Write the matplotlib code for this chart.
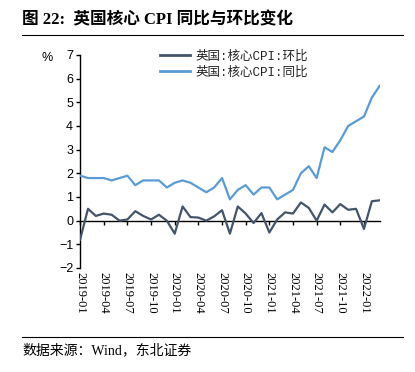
import numpy as np
import matplotlib.pyplot as plt
from matplotlib.lines import Line2D

plt.rcParams['font.family'] = ['Liberation Serif', 'Noto Sans CJK SC', 'DejaVu Sans']

months = ["2019-01", "2019-02", "2019-03", "2019-04", "2019-05", "2019-06",
          "2019-07", "2019-08", "2019-09", "2019-10", "2019-11", "2019-12",
          "2020-01", "2020-02", "2020-03", "2020-04", "2020-05", "2020-06",
          "2020-07", "2020-08", "2020-09", "2020-10", "2020-11", "2020-12",
          "2021-01", "2021-02", "2021-03", "2021-04", "2021-05", "2021-06",
          "2021-07", "2021-08", "2021-09", "2021-10", "2021-11", "2021-12",
          "2022-01", "2022-02", "2022-03"]

# 环比
mom = [-0.8, 0.5, 0.2, 0.3, 0.25, 0.0, 0.05, 0.4, 0.2, 0.05, 0.25, 0.0,
       -0.55, 0.6, 0.15, 0.13, 0.0, 0.18, 0.44, -0.55, 0.6, 0.3, -0.1, 0.32,
       -0.5, 0.05, 0.35, 0.3, 0.77, 0.54, 0.0, 0.68, 0.35, 0.7, 0.46, 0.5,
       -0.35, 0.82, 0.86]

# 同比
yoy = [1.9, 1.8, 1.8, 1.8, 1.7, 1.8, 1.9, 1.5, 1.7, 1.7, 1.7, 1.4,
       1.6, 1.7, 1.6, 1.4, 1.2, 1.4, 1.8, 0.9, 1.3, 1.5, 1.1, 1.4,
       1.4, 0.9, 1.1, 1.3, 2.0, 2.3, 1.8, 3.1, 2.9, 3.4, 4.0, 4.2,
       4.4, 5.2, 5.7]

names = ["英国:核心CPI:环比", "英国:核心CPI:同比"]
colors = ["#44546A", "#5B9BD5"]

x = np.arange(len(months))
xt = x[::3]
xl = months[::3]

fig = plt.figure(figsize=(4.15, 3.72), dpi=100)
ax = fig.add_axes([0.193, 0.2796, 0.722, 0.5726])

ax.plot(x, mom, color=colors[0], lw=1.6, zorder=3)
ax.plot(x, yoy, color=colors[1], lw=1.6, zorder=3)

ax.set_xlim(0, 38)
ax.set_ylim(-2, 7)
ax.set_yticks(range(-2, 8))
ax.tick_params(axis='y', direction='out', length=3, width=1, labelsize=9, pad=2)
for t in ax.get_yticklabels():
    t.set_family('Liberation Sans')

ax.spines['top'].set_visible(False)
ax.spines['right'].set_visible(False)
ax.spines['left'].set_linewidth(1)
ax.spines['bottom'].set_position(('data', 0))
ax.spines['bottom'].set_linewidth(1)
ax.set_xticks(xt)
ax.tick_params(axis='x', direction='out', length=3, width=1, labelbottom=False)

sec = ax.secondary_xaxis('bottom')
sec.spines['bottom'].set_visible(False)
sec.set_xticks(xt)
sec.set_xticklabels(xl, rotation=-90, fontsize=9)
sec.tick_params(length=0, pad=3)

ax.text(-0.09, 0.985, "%", transform=ax.transAxes, fontsize=9,
        family='Liberation Sans', ha='right', va='center')

handles = [Line2D([], [], color=c, lw=2) for c in colors]
leg = ax.legend(handles, names, loc='upper left', bbox_to_anchor=(0.25, 1.045),
                frameon=False, prop={'family': ['Liberation Mono', 'Noto Sans CJK SC'], 'size': 9},
                handlelength=2.4, handletextpad=0.4,
                labelspacing=0.3, borderaxespad=0)
for t in leg.get_texts():
    t.set_color('#222222')

fig.text(0.053, 0.935, "图 22:  英国核心 CPI 同比与环比变化", fontsize=12,
         fontweight='bold', ha='left', va='baseline')
fig.add_artist(Line2D([0.053, 0.972], [0.906, 0.906], color='black', lw=0.8))
fig.add_artist(Line2D([0.053, 0.972], [0.094, 0.094], color='black', lw=0.8))
fig.text(0.053, 0.048, "数据来源：Wind，东北证券", fontsize=10,
         ha='left', va='baseline')

fig.savefig("out.png", dpi=100)
